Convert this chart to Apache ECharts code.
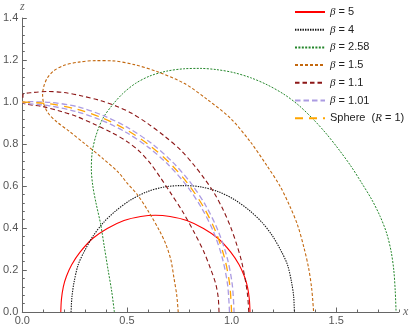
<!DOCTYPE html>
<html>
<head>
<meta charset="utf-8">
<script src="https://cdn.jsdelivr.net/npm/echarts@6/dist/echarts.min.js"></script>
<style>
  html, body { margin: 0; padding: 0; background: #fff; }
  #main { width: 415px; height: 330px; }
</style>
</head>
<body>
<div id="main"></div>
<script>
// legend names
var seriesNames = ['β = 5', 'β = 4', 'β = 2.58', 'β = 1.5', 'β = 1.1', 'β = 1.01', 'Sphere  (R = 1)'];

// tick labels
var xTicks = [0, 0.5, 1.0, 1.5];

// curves, [x, z]
var beta5 = [[0.184,0],[0.187,0.06],[0.196,0.12],[0.211,0.17],[0.236,0.225],[0.276,0.285],[0.336,0.35],
  [0.406,0.398],[0.486,0.436],[0.566,0.455],[0.636,0.461],[0.706,0.455],[0.786,0.436],[0.866,0.398],
  [0.936,0.35],[0.996,0.285],[1.036,0.225],[1.061,0.17],[1.076,0.12],[1.085,0.06],[1.088,0]];

var beta4 = [[0.233,0],[0.237,0.07],[0.247,0.14],[0.267,0.225],[0.297,0.29],[0.337,0.36],[0.387,0.425],
  [0.447,0.482],[0.517,0.533],[0.597,0.573],[0.682,0.596],[0.767,0.602],[0.852,0.596],[0.937,0.573],
  [1.017,0.533],[1.087,0.482],[1.147,0.425],[1.197,0.36],[1.237,0.29],[1.267,0.225],[1.287,0.14],
  [1.297,0.07],[1.3,0]];

var beta258 = [[0.44,0],[0.427,0.1],[0.41,0.2],[0.392,0.31],[0.374,0.42],[0.352,0.52],[0.337,0.6],[0.33,0.68],
  [0.334,0.76],[0.352,0.84],[0.385,0.922],[0.43,0.985],[0.48,1.04],[0.54,1.088],[0.61,1.124],[0.69,1.147],
  [0.77,1.158],[0.85,1.16],[0.93,1.154],[1.01,1.14],[1.09,1.116],[1.17,1.082],[1.25,1.037],[1.32,0.985],
  [1.39,0.918],[1.45,0.852],[1.51,0.777],[1.57,0.695],[1.62,0.617],[1.67,0.535],[1.71,0.455],[1.741,0.375],
  [1.762,0.29],[1.775,0.2],[1.782,0.1],[1.786,0]];

var beta15 = [[0.745,0],[0.738,0.08],[0.725,0.16],[0.71,0.248],[0.685,0.325],[0.654,0.39],[0.605,0.475],
  [0.551,0.557],[0.5,0.615],[0.46,0.664],[0.38,0.735],[0.3,0.8],[0.225,0.86],[0.165,0.905],[0.125,0.945],
  [0.103,0.99],[0.097,1.035],[0.103,1.075],[0.12,1.115],[0.15,1.148],[0.2,1.175],[0.27,1.19],[0.35,1.197],
  [0.43,1.196],[0.535,1.178],[0.646,1.144],[0.773,1.089],[0.884,1.012],[0.995,0.922],[1.09,0.81],
  [1.17,0.695],[1.233,0.597],[1.28,0.5],[1.315,0.415],[1.345,0.31],[1.368,0.21],[1.383,0.11],[1.392,0]];

var beta11 = [[0.94,0],[0.936,0.07],[0.924,0.135],[0.9,0.205],[0.866,0.29],[0.821,0.38],[0.765,0.48],
  [0.71,0.565],[0.66,0.64],[0.61,0.71],[0.56,0.765],[0.5,0.812],[0.43,0.853],[0.344,0.894],[0.257,0.932],
  [0.186,0.955],[0.1,0.978],[0.003,0.998],
  [0.003,1.035],[0.05,1.045],[0.12,1.05],[0.2,1.045],[0.28,1.03],[0.376,1.006],[0.45,0.98],[0.52,0.948],
  [0.6,0.897],[0.68,0.837],[0.757,0.771],[0.82,0.7],[0.87,0.635],[0.916,0.568],[0.958,0.49],[0.995,0.406],
  [1.025,0.32],[1.048,0.24],[1.066,0.15],[1.077,0.075],[1.082,0]];

var beta101 = [[0.99,0],[0.981,0.13],[0.956,0.256],[0.915,0.379],[0.857,0.495],[0.785,0.602],[0.7,0.699],
  [0.603,0.784],[0.495,0.856],[0.379,0.913],[0.256,0.955],[0.129,0.982],[0.002,0.998],
  [0.002,1.002],[0.133,0.998],[0.262,0.978],[0.388,0.935],[0.506,0.877],[0.617,0.803],[0.716,0.716],
  [0.803,0.617],[0.877,0.506],[0.935,0.388],[0.978,0.262],[1.003,0.133],[1.012,0]];

var sphere = [[0,1],[0.131,0.991],[0.259,0.966],[0.383,0.924],[0.5,0.866],[0.609,0.793],[0.707,0.707],
  [0.793,0.609],[0.866,0.5],[0.924,0.383],[0.966,0.259],[0.991,0.131],[1,0]];

var curves = [beta5, beta4, beta258, beta15, beta11, beta101, sphere];
var colors = ['#ff0000', '#141414', '#23862a', '#c3680f', '#8c1616', '#ab9be2', '#ffa500'];
var dashes = ['solid', [1.4, 1.1], [2, 1.4], [3, 2], [4.5, 3], [5.5, 3], [8, 6]];
var widths = [1.1, 1.1, 1, 1.1, 1.1, 1.3, 1.3];

var chart = echarts.init(document.getElementById('main'));

var series = [];
for (var i = 0; i < curves.length; i++) {
  series.push({
    name: seriesNames[i],
    type: 'line',
    data: curves[i],
    smooth: 0.3,
    symbol: 'none',
    animation: false,
    lineStyle: { color: colors[i], type: dashes[i], width: widths[i] },
    itemStyle: { color: colors[i] }
  });
}

var axisGray = '#666';
var labelStyle = { color: '#555', fontSize: 11, fontFamily: 'Liberation Sans, Arial, sans-serif' };

var option = {
  animation: false,
  grid: { left: 21, right: 16, top: 18, bottom: 18 },
  legend: {
    orient: 'vertical',
    left: 294,
    top: 5,
    padding: 0,
    itemWidth: 30,
    itemHeight: 10,
    itemGap: 3.7,
    itemStyle: { opacity: 0, borderWidth: 0 },
    textStyle: {
      color: '#222', fontSize: 11, lineHeight: 14,
      fontFamily: 'Liberation Sans, Arial, sans-serif',
      rich: { i: { fontStyle: 'italic', fontSize: 11, fontFamily: 'Liberation Serif, serif', color: '#222' } }
    },
    formatter: function (name) {
      if (name.indexOf('Sphere') === 0) return 'Sphere  ({i|R} = 1)';
      return '{i|β}' + name.slice(1);
    },
    data: seriesNames
  },
  xAxis: [{
    type: 'value', min: 0, max: 1.8, interval: 0.1,
    name: 'x', nameLocation: 'end', nameGap: 4,
    nameTextStyle: { color: '#666', fontStyle: 'italic', fontSize: 12, fontFamily: 'Liberation Serif, serif' },
    axisLine: { show: true, lineStyle: { color: axisGray, width: 1 } },
    axisTick: { show: true, inside: true, length: 2.5, lineStyle: { color: axisGray } },
    axisLabel: Object.assign({ customValues: xTicks, margin: 3, formatter: function (v) { return v.toFixed(1); } }, labelStyle),
    splitLine: { show: false }
  }, {
    type: 'value', min: 0, max: 1.8, position: 'bottom', offset: 0,
    axisLine: { show: false },
    axisTick: { show: true, inside: true, length: 4.5, customValues: xTicks, lineStyle: { color: axisGray } },
    axisLabel: { show: false },
    splitLine: { show: false }
  }],
  yAxis: {
    type: 'value', min: 0, max: 1.4, interval: 0.2,
    name: 'z', nameLocation: 'end', nameGap: 4,
    nameTextStyle: { color: '#666', fontStyle: 'italic', fontSize: 12, fontFamily: 'Liberation Serif, serif' },
    axisLine: { show: true, lineStyle: { color: axisGray, width: 1 } },
    axisTick: { show: true, inside: true, length: 4.5, lineStyle: { color: axisGray } },
    minorTick: { show: true, splitNumber: 5, length: 2.5, lineStyle: { color: axisGray } },
    axisLabel: Object.assign({ margin: 4, formatter: function (v) { return v.toFixed(1); } }, labelStyle),
    splitLine: { show: false },
    minorSplitLine: { show: false }
  },
  series: series
};

chart.setOption(option);
</script>
</body>
</html>
